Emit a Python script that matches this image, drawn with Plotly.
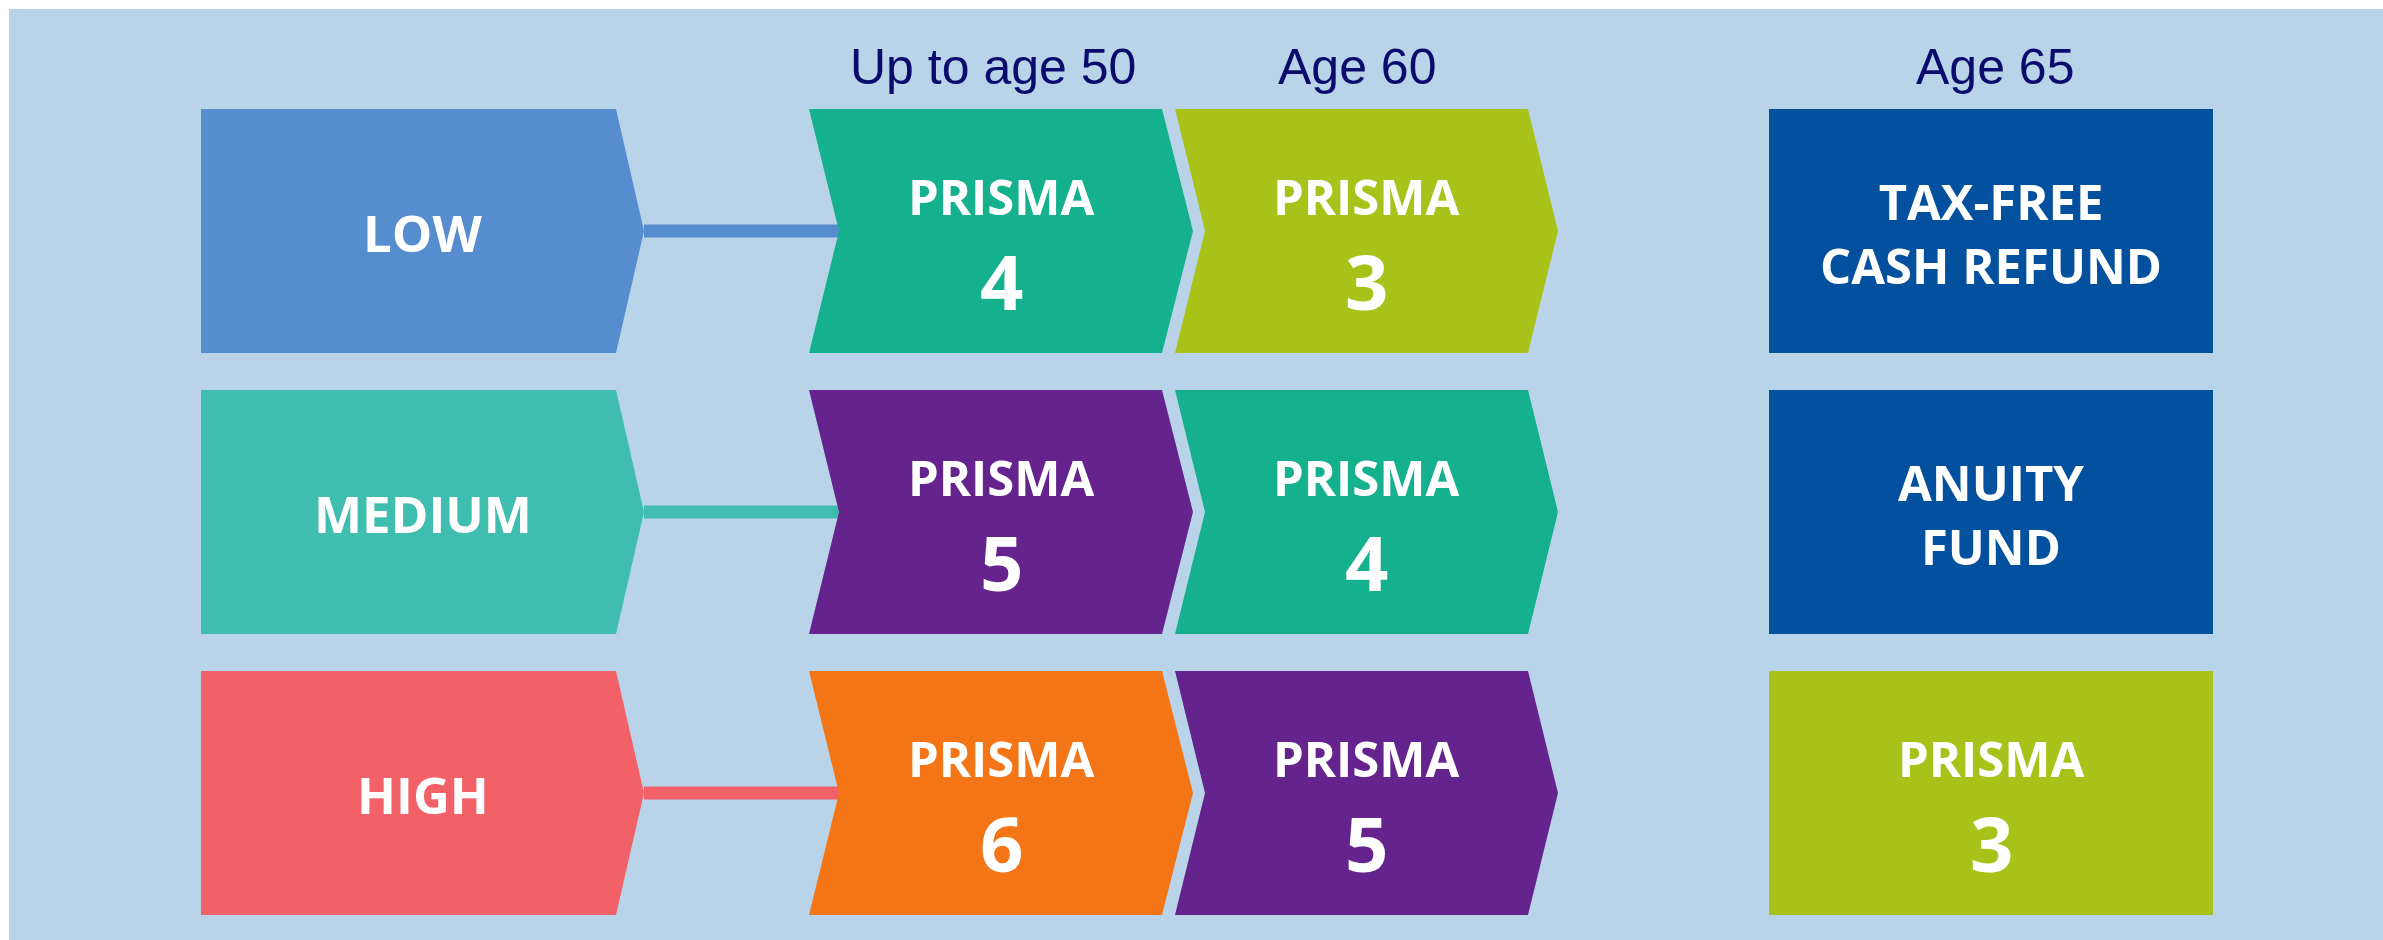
import plotly.graph_objects as go

# ---------------- data ----------------
risk_levels = ["LOW", "MEDIUM", "HIGH"]
stage_headers = ["Up to age 50", "Age 60", "Age 65"]
prisma_age50 = [4, 5, 6]
prisma_age60 = [3, 4, 5]
age65_line1 = ["TAX-FREE", "ANUITY", "PRISMA"]
age65_line2 = ["CASH REFUND", "FUND", "3"]

risk_colors = ["#568DCF", "#3FBEB0", "#F26168"]
prisma_colors = {3: "#A8C21A", 4: "#15B08E", 5: "#65238E", 6: "#F47516"}
age65_colors = ["#03509E", "#03509E", "#A8C21A"]

# ---------------- layout constants ----------------
W, H = 2383, 940
BG = "#B9D4E9"
HEADER_COLOR = "#0B0B6E"
row_tops = [109, 390, 671]
row_h = 244
c1 = (201, 616, 644)            # left, flat right, tip
c2 = (809, 839, 1162, 1193)     # left, notch, flat right, tip
c3 = (1175, 1205, 1528, 1558)
c4 = (1769, 2213)
header_x = [993, 1357, 1995]
header_y = 67
WORD_FONT = "Open Sans"

fig = go.Figure()

def poly(xs, ys, color):
    fig.add_trace(go.Scatter(x=xs + [xs[0]], y=ys + [ys[0]], mode="lines",
                             fill="toself", fillcolor=color,
                             line=dict(width=0, color=color),
                             hoverinfo="skip", showlegend=False))

def label(x, y, text, size):
    fig.add_annotation(x=x, y=y, text=text, showarrow=False,
                       xanchor="center", yanchor="middle",
                       font=dict(family=WORD_FONT, size=size, color="white", weight="bold"))

for i, risk in enumerate(risk_levels):
    top = row_tops[i]
    bot = top + row_h
    mid = (top + bot) / 2

    # connector line
    fig.add_trace(go.Scatter(x=[c1[2], c2[1] + 2], y=[mid, mid], mode="lines",
                             line=dict(width=13, color=risk_colors[i]),
                             hoverinfo="skip", showlegend=False))

    # risk level pentagon
    poly([c1[0], c1[1], c1[2], c1[1], c1[0]], [top, top, mid, bot, bot], risk_colors[i])
    label((c1[0] + c1[2]) / 2, mid + 1, risk, 51)

    # age 50 chevron
    p = prisma_age50[i]
    poly([c2[0], c2[2], c2[3], c2[2], c2[0], c2[1]], [top, top, mid, bot, bot, mid], prisma_colors[p])
    cx = (c2[0] + c2[3]) / 2
    label(cx, top + 87, "PRISMA", 49)
    label(cx, top + 171, str(p), 76)

    # age 60 chevron
    p = prisma_age60[i]
    poly([c3[0], c3[2], c3[3], c3[2], c3[0], c3[1]], [top, top, mid, bot, bot, mid], prisma_colors[p])
    cx = (c3[0] + c3[3]) / 2
    label(cx, top + 87, "PRISMA", 49)
    label(cx, top + 171, str(p), 76)

    # age 65 box
    poly([c4[0], c4[1], c4[1], c4[0]], [top, top, bot, bot], age65_colors[i])
    cx = (c4[0] + c4[1]) / 2
    if age65_line2[i].isdigit():
        label(cx, top + 87, age65_line1[i], 49)
        label(cx, top + 171, age65_line2[i], 76)
    else:
        label(cx, top + 124, age65_line1[i] + "<br>" + age65_line2[i], 49)

for hx, htxt in zip(header_x, stage_headers):
    fig.add_annotation(x=hx, y=header_y, text=htxt, showarrow=False,
                       xanchor="center", yanchor="middle",
                       font=dict(family="Liberation Sans Narrow, Liberation Sans, Arial", size=50,
                                 color=HEADER_COLOR))

fig.add_shape(type="rect", xref="x", yref="y", x0=9, x1=W, y0=9, y1=H,
              fillcolor=BG, line=dict(width=0), layer="below")

fig.update_layout(
    width=W, height=H, autosize=False,
    margin=dict(l=0, r=0, t=0, b=0, pad=0),
    paper_bgcolor="white", plot_bgcolor="white",
    xaxis=dict(range=[0, W], visible=False, fixedrange=True),
    yaxis=dict(range=[H, 0], visible=False, fixedrange=True),
    showlegend=False,
)

fig.write_html("out.html", config={"displayModeBar": False},
               post_script="document.body.style.margin='0px';document.body.style.overflow='hidden';")
